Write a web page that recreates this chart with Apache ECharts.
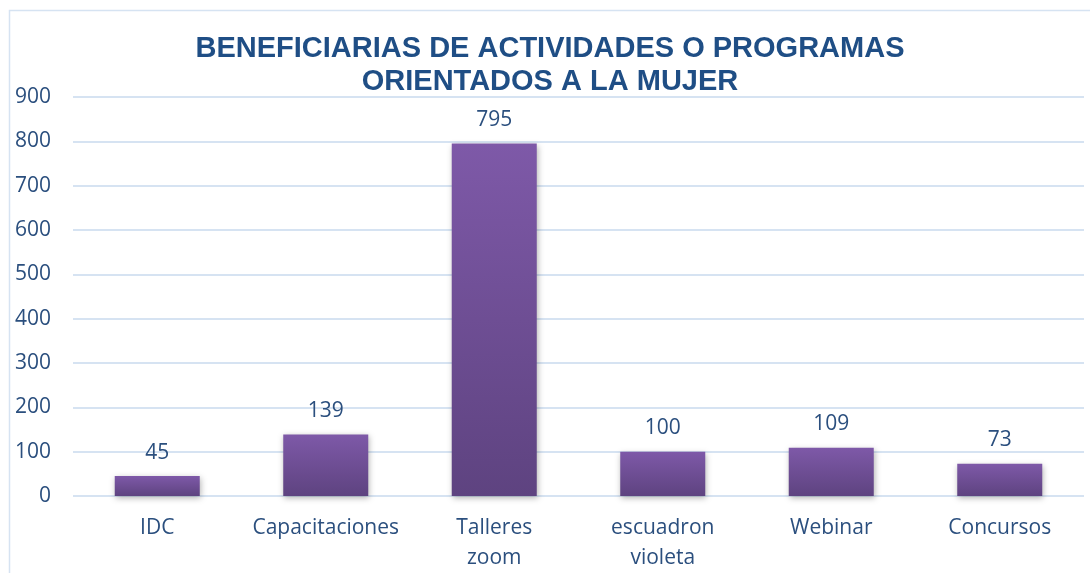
<!DOCTYPE html>
<html><head><meta charset="utf-8">
<script src="https://cdn.jsdelivr.net/npm/echarts@6/dist/echarts.min.js"></script>
<style>html,body{margin:0;padding:0;background:#fff}#c{width:1090px;height:573px}</style>
</head><body><div id="c"></div>
<script>
const categories = ['IDC', 'Capacitaciones', 'Talleres\nzoom', 'escuadron\nvioleta', 'Webinar', 'Concursos'];
const values = [45, 139, 795, 100, 109, 73];
const yTicks = [0, 100, 200, 300, 400, 500, 600, 700, 800, 900];

const chart = echarts.init(document.getElementById('c'));
const txt = '#2B4F7E';
chart.setOption({
  animation: false,
  graphic: [{type: 'rect', shape: {x: 9.5, y: 10.5, width: 1100, height: 600}, style: {fill: 'none', stroke: '#D6E3F2', lineWidth: 1.5}}],
  title: {
    text: 'BENEFICIARIAS DE ACTIVIDADES O PROGRAMAS\nORIENTADOS A LA MUJER',
    left: 545, top: 27, textAlign: 'center',
    textStyle: {fontFamily: 'Liberation Sans', fontWeight: 'bold', fontSize: 29, color: '#1F4E85', lineHeight: 33}
  },
  grid: {left: 73, right: 6, top: 97, bottom: 76},
  xAxis: {
    type: 'category', data: categories,
    axisLine: {show: false}, axisTick: {show: false},
    axisLabel: {fontFamily: 'Open Sans', fontSize: 21, color: txt, margin: 17, lineHeight: 30, interval: 0}
  },
  yAxis: {
    type: 'value', min: yTicks[0], max: yTicks[yTicks.length - 1], interval: 100,
    axisLine: {show: false}, axisTick: {show: false},
    splitLine: {lineStyle: {color: '#D6E3F2', width: 2}},
    axisLabel: {fontFamily: 'Open Sans', fontSize: 21, color: txt, margin: 22}
  },
  series: [{
    type: 'bar', data: values, barWidth: 85,
    itemStyle: {
      color: new echarts.graphic.LinearGradient(0, 0, 0, 1, [{offset: 0, color: '#7E59A8'}, {offset: 1, color: '#5E4380'}]),
      shadowColor: 'rgba(0,0,0,0.3)', shadowBlur: 6, shadowOffsetX: 1, shadowOffsetY: 2
    },
    label: {show: true, position: 'top', distance: 13, fontFamily: 'Open Sans', fontSize: 21, color: txt}
  }]
});
</script></body></html>
